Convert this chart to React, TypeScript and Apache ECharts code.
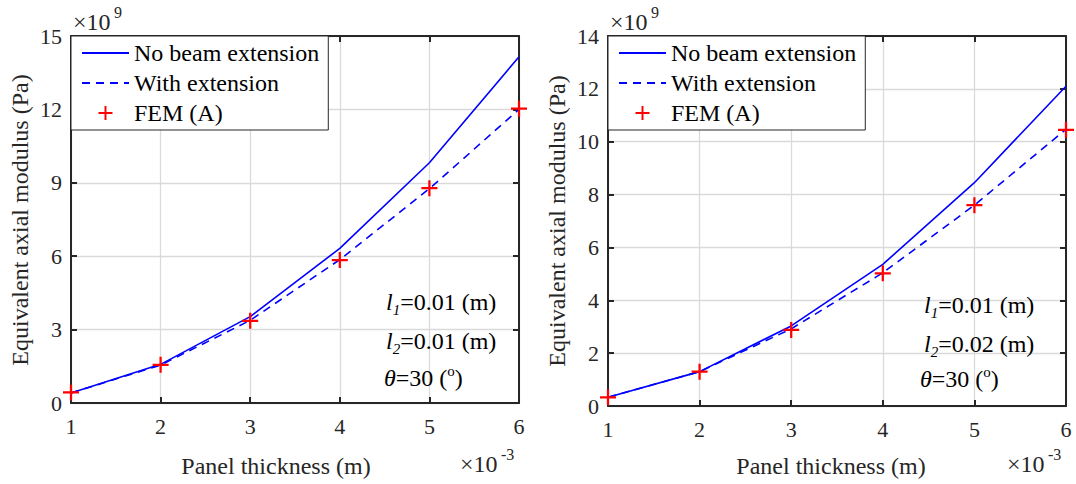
import React, { useEffect, useRef } from 'react';
import * as echarts from 'echarts';

const FONT = 'Liberation Serif, Times New Roman, Times, serif';
const AXIS = '#262626';
const GRIDC = '#dadada';

// Panel thickness (x 10^-3 m)
const thickness = [1, 2, 3, 4, 5, 6];

// Left panel: l1 = 0.01, l2 = 0.01 (values x 10^9 Pa)
const leftNoExtension = [0.41, 1.58, 3.53, 6.32, 9.82, 14.15];
const leftWithExtension = [0.41, 1.55, 3.38, 5.86, 8.76, 12.0];
const leftFEM = [0.43, 1.56, 3.36, 5.84, 8.78, 12.03];

// Right panel: l1 = 0.01, l2 = 0.02 (values x 10^9 Pa)
const rightNoExtension = [0.33, 1.3, 3.03, 5.36, 8.45, 12.1];
const rightWithExtension = [0.33, 1.3, 2.92, 5.04, 7.6, 10.47];
const rightFEM = [0.33, 1.3, 2.88, 5.02, 7.6, 10.45];

const leftYMax = 15;
const leftYStep = 3;
const rightYMax = 14;
const rightYStep = 2;

const NAMES = ['No beam extension', 'With extension', 'FEM (A)'];
const PLUS = 'path://M-1.4,-10H1.4V-1.4H10V1.4H1.4V10H-1.4V1.4H-10V-1.4H-1.4Z';

const pairs = (ys: number[]) => thickness.map((x, i) => [x, ys[i]]);

function makeXAxes(gridIndex: number) {
  const base = { type: 'value', gridIndex, min: 1, max: 6, interval: 1 };
  const line = { show: true, onZero: false, lineStyle: { color: AXIS, width: 2 } };
  const tick = { show: true, inside: true, length: 6, lineStyle: { color: AXIS, width: 2 } };
  return [
    {
      ...base,
      position: 'bottom',
      axisLine: line,
      axisTick: tick,
      axisLabel: { show: true, margin: 12, color: AXIS, fontFamily: FONT, fontSize: 22 },
      splitLine: { show: true, lineStyle: { color: GRIDC, width: 1.3 } },
    },
    {
      ...base,
      position: 'top',
      axisLine: line,
      axisTick: tick,
      axisLabel: { show: false },
      splitLine: { show: false },
    },
  ];
}

function makeYAxes(gridIndex: number, max: number, step: number) {
  const base = { type: 'value', gridIndex, min: 0, max, interval: step };
  const line = { show: true, onZero: false, lineStyle: { color: AXIS, width: 2 } };
  const tick = { show: true, inside: true, length: 6, lineStyle: { color: AXIS, width: 2 } };
  return [
    {
      ...base,
      position: 'left',
      axisLine: line,
      axisTick: tick,
      axisLabel: { show: true, margin: 9, color: AXIS, fontFamily: FONT, fontSize: 22 },
      splitLine: { show: true, lineStyle: { color: GRIDC, width: 1.3 } },
    },
    {
      ...base,
      position: 'right',
      axisLine: line,
      axisTick: tick,
      axisLabel: { show: false },
      splitLine: { show: false },
    },
  ];
}

function makeSeries(gi: number, noExt: number[], withExt: number[], fem: number[]) {
  const xi = gi * 2;
  const yi = gi * 2;
  return [
    {
      name: NAMES[0],
      type: 'line',
      xAxisIndex: xi,
      yAxisIndex: yi,
      data: pairs(noExt),
      symbol: 'none',
      lineStyle: { color: '#0000ff', width: 1.6 },
      itemStyle: { color: '#0000ff' },
      z: 3,
    },
    {
      name: NAMES[1],
      type: 'line',
      xAxisIndex: xi,
      yAxisIndex: yi,
      data: pairs(withExt),
      symbol: 'none',
      lineStyle: { color: '#0000ff', width: 1.6, type: [8, 6] },
      itemStyle: { color: '#0000ff' },
      z: 3,
    },
    {
      name: NAMES[2],
      type: 'scatter',
      xAxisIndex: xi,
      yAxisIndex: yi,
      data: pairs(fem),
      symbol: PLUS,
      symbolSize: 16,
      symbolKeepAspect: true,
      itemStyle: { color: '#ff0000', opacity: 1 },
      z: 4,
    },
  ];
}

const hidden = { color: 'rgba(0,0,0,0)', borderColor: 'rgba(0,0,0,0)', borderWidth: 0 };

function makeLegend(left: number) {
  return {
    left,
    top: 36,
    orient: 'vertical',
    data: [
      { name: NAMES[0], itemStyle: hidden },
      { name: NAMES[1], itemStyle: hidden },
      { name: NAMES[2] },
    ],
    selectedMode: false,
    itemWidth: 47,
    itemHeight: 14,
    itemGap: 4,
    padding: [4, 9, 4, 10],
    backgroundColor: '#ffffff',
    borderColor: '#262626',
    borderWidth: 1,
    textStyle: { fontFamily: FONT, fontSize: 24, color: '#000', lineHeight: 26 },
  };
}

const txt = (x: number, y: number, text: string, size: number, extra: any = {}) => ({
  type: 'text',
  x,
  y,
  silent: true,
  z: 10,
  ...(extra.rotation !== undefined ? { rotation: extra.rotation } : {}),
  style: {
    text,
    fill: extra.fill || '#262626',
    font: `${extra.italic ? 'italic ' : ''}${size}px ${FONT}`,
    textAlign: extra.align || 'left',
    textVerticalAlign: 'middle',
    align: extra.align || 'left',
    verticalAlign: 'middle',
    ...(extra.rich ? { rich: extra.rich } : {}),
  },
});

const annoRich = {
  i: { fontFamily: FONT, fontSize: 24, fontStyle: 'italic', fill: '#000', color: '#000', lineHeight: 30, verticalAlign: 'middle' },
  n: { fontFamily: FONT, fontSize: 24, fill: '#000', color: '#000', lineHeight: 30, verticalAlign: 'middle' },
  sub: { fontFamily: FONT, fontSize: 15, fontStyle: 'italic', fill: '#000', color: '#000', lineHeight: 15, verticalAlign: 'bottom' },
  sup: { fontFamily: FONT, fontSize: 15, fill: '#000', color: '#000', lineHeight: 15, verticalAlign: 'top' },
};

function annotations(x0: number, thx: number, ys: number[], l2: string) {
  return [
    txt(x0, ys[0], '{i|l}{sub|1}{n|=0.01 (m)}', 24, { fill: '#000', rich: annoRich }),
    txt(x0, ys[1], `{i|l}{sub|2}{n|=${l2} (m)}`, 24, { fill: '#000', rich: annoRich }),
    txt(thx, ys[2], '{i|θ}{n|=30 (}{sup|o}{n|)}', 24, { fill: '#000', rich: annoRich }),
  ];
}

function exponent(x: number, y: number, sup: string) {
  return [txt(x, y, '×10', 24), txt(x + 41, y - 10, sup, 16)];
}

export default function App() {
  const ref = useRef<HTMLDivElement>(null);
  useEffect(() => {
    if (!ref.current) return;
    const chart = echarts.init(ref.current, undefined, { renderer: 'svg' });
    const option: any = {
      animation: false,
      backgroundColor: '#ffffff',
      textStyle: { fontFamily: FONT },
      grid: [
        { left: 71, top: 36, width: 448, height: 367, containLabel: false },
        { left: 608, top: 36, width: 458, height: 370, containLabel: false },
      ],
      xAxis: [...makeXAxes(0), ...makeXAxes(1)],
      yAxis: [...makeYAxes(0, leftYMax, leftYStep), ...makeYAxes(1, rightYMax, rightYStep)],
      legend: [makeLegend(71), makeLegend(608)],
      series: [
        ...makeSeries(0, leftNoExtension, leftWithExtension, leftFEM),
        ...makeSeries(1, rightNoExtension, rightWithExtension, rightFEM),
      ],
      graphic: [
        txt(20, 220, 'Equivalent axial modulus (Pa)', 24, { align: 'center', rotation: Math.PI / 2 }),
        txt(557, 221, 'Equivalent axial modulus (Pa)', 24, { align: 'center', rotation: Math.PI / 2 }),
        txt(276, 466, 'Panel thickness (m)', 24, { align: 'center' }),
        txt(831, 466, 'Panel thickness (m)', 24, { align: 'center' }),
        ...exponent(73, 22, '9'),
        ...exponent(610, 22, '9'),
        ...exponent(460, 464, '-3'),
        ...exponent(1007, 464, '-3'),
        ...annotations(386, 384, [302, 341, 378], '0.01'),
        ...annotations(924, 920, [305, 344, 379], '0.02'),
      ],
    };
    chart.setOption(option);
    return () => chart.dispose();
  }, []);
  return (
    <div
      ref={ref}
      style={{ position: 'fixed', left: 0, top: 0, width: 1076, height: 484, background: '#fff' }}
    />
  );
}
